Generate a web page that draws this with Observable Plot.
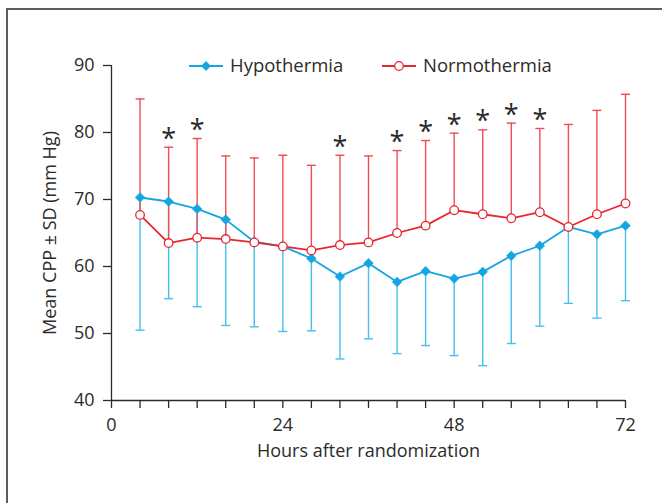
<!DOCTYPE html>
<html>
<head>
<meta charset="utf-8">
<script src="https://cdn.jsdelivr.net/npm/d3@7"></script>
<script src="https://cdn.jsdelivr.net/npm/@observablehq/plot@0.6"></script>
<style>
  html, body { margin: 0; padding: 0; background: #fff; overflow: hidden; }
  #wrap { position: relative; width: 662px; height: 503px; overflow: hidden; }
  #frame { position: absolute; left: 6px; top: 8px; width: 720px; height: 600px;
           border-top: 2px solid #5c5c5c; border-left: 2px solid #5c5c5c; }
  #chart { position: absolute; left: 0; top: 0; }
  #legend { position: absolute; left: 0; top: 0; pointer-events: none; }
</style>
</head>
<body>
<div id="wrap">
  <div id="frame"></div>
  <div id="chart"></div>
  <svg id="legend" width="662" height="90"></svg>
</div>
<script>
// ---- data ----
const hours      = [4, 8, 12, 16, 20, 24, 28, 32, 36, 40, 44, 48, 52, 56, 60, 64, 68, 72];
const hypoMean   = [70.3, 69.7, 68.6, 67.0, 63.7, 63.0, 61.2, 58.5, 60.5, 57.7, 59.3, 58.2, 59.2, 61.6, 63.1, 65.9, 64.8, 66.1];
const hypoLower  = [50.5, 55.2, 54.0, 51.2, 51.0, 50.3, 50.4, 46.2, 49.2, 47.0, 48.2, 46.7, 45.2, 48.5, 51.1, 54.5, 52.3, 54.9];
const normoMean  = [67.7, 63.5, 64.3, 64.1, 63.6, 63.0, 62.4, 63.2, 63.6, 65.0, 66.1, 68.4, 67.8, 67.2, 68.1, 65.9, 67.8, 69.4];
const normoUpper = [85.0, 77.8, 79.1, 76.5, 76.2, 76.6, 75.1, 76.6, 76.5, 77.3, 78.8, 79.9, 80.4, 81.4, 80.6, 81.2, 83.3, 85.7];
const sigHours   = [8, 12, 32, 40, 44, 48, 52, 56, 60];
const xTicks     = [0, 4, 8, 12, 16, 20, 24, 28, 32, 36, 40, 44, 48, 52, 56, 60, 64, 68, 72];
const xLabels    = [0, 24, 48, 72];
const yTicks     = [40, 50, 60, 70, 80, 90];
const seriesNames = ["Hypothermia", "Normothermia"];

const BLUE = "#15a6e1", BLUE_BAR = "#45bfee";
const RED = "#e8262f", RED_BAR = "#ee4d56";
const INK = "#2b2b2b";

const rows = hours.map((h, i) => ({
  h, hypo: hypoMean[i], hypoLo: hypoLower[i], normo: normoMean[i], normoUp: normoUpper[i]
}));
const sigRows = rows.filter(d => sigHours.includes(d.h));

const capSymbol = {
  draw(ctx, size) { const w = Math.sqrt(size / Math.PI); ctx.moveTo(-w, 0); ctx.lineTo(w, 0); }
};

const chart = Plot.plot({
  width: 662, height: 503,
  marginLeft: 111, marginRight: 37, marginTop: 65, marginBottom: 103,
  style: { fontFamily: "'Open Sans', sans-serif", fontSize: "18px", color: INK, background: "transparent", overflow: "visible" },
  x: { domain: [0, 72] },
  y: { domain: [40, 90] },
  marks: [
    Plot.axisY({ ticks: yTicks, tickSize: 8, tickPadding: 9, stroke: INK, strokeWidth: 1.3,
      label: "Mean CPP ± SD (mm Hg)", labelAnchor: "center", labelArrow: "none", labelOffset: 68 }),
    Plot.axisX({ ticks: xTicks, tickFormat: d => xLabels.includes(d) ? String(d) : "", tickSize: 8, tickPadding: 10,
      stroke: INK, strokeWidth: 1.3,
      label: "Hours after randomization", labelAnchor: "center", labelArrow: "none", labelOffset: 56 }),
    Plot.ruleX([0], { y1: 40, y2: 90, stroke: INK, strokeWidth: 1.3 }),
    Plot.ruleY([40], { x1: 0, x2: 72, stroke: INK, strokeWidth: 1.3 }),
    // error bars
    Plot.ruleX(rows, { x: "h", y1: "hypo", y2: "hypoLo", stroke: BLUE_BAR, strokeWidth: 1.4 }),
    Plot.dot(rows, { x: "h", y: "hypoLo", symbol: capSymbol, r: 4.5, stroke: BLUE_BAR, strokeWidth: 1.4 }),
    Plot.ruleX(rows, { x: "h", y1: "normo", y2: "normoUp", stroke: RED_BAR, strokeWidth: 1.4 }),
    Plot.dot(rows, { x: "h", y: "normoUp", symbol: capSymbol, r: 4.5, stroke: RED_BAR, strokeWidth: 1.4 }),
    // lines
    Plot.line(rows, { x: "h", y: "hypo", stroke: BLUE, strokeWidth: 1.8 }),
    Plot.line(rows, { x: "h", y: "normo", stroke: RED, strokeWidth: 1.8 }),
    Plot.dot(rows, { x: "h", y: "hypo", symbol: "diamond2", r: 4.4, fill: BLUE, stroke: BLUE, strokeWidth: 0.5 }),
    Plot.dot(rows, { x: "h", y: "normo", r: 4.3, fill: "white", stroke: RED, strokeWidth: 1.3 }),
    // significance asterisks
    Plot.text(sigRows, { x: "h", y: "normoUp", text: () => "*", fontSize: 27, dy: -8, fill: INK })
  ]
});
document.getElementById("chart").appendChild(chart);

// ---- legend ----
const lg = d3.select("#legend");
const items = [
  { name: seriesNames[0], color: BLUE, x0: 189, marker: "diamond" },
  { name: seriesNames[1], color: RED, x0: 382, marker: "circle" }
];
for (const it of items) {
  const g = lg.append("g");
  g.append("line").attr("x1", it.x0).attr("x2", it.x0 + 34).attr("y1", 66).attr("y2", 66)
    .attr("stroke", it.color).attr("stroke-width", 1.8);
  if (it.marker === "diamond") {
    g.append("path").attr("d", d3.symbol(d3.symbolDiamond2, Math.PI * 4.4 * 4.4)())
      .attr("transform", `translate(${it.x0 + 17},66)`).attr("fill", it.color);
  } else {
    g.append("circle").attr("cx", it.x0 + 17).attr("cy", 66).attr("r", 4.3)
      .attr("fill", "white").attr("stroke", it.color).attr("stroke-width", 1.3);
  }
  g.append("text").attr("x", it.x0 + 41).attr("y", 66).attr("dy", "0.35em")
    .attr("font-family", "'Open Sans', sans-serif").attr("font-size", 18.5).attr("fill", INK)
    .text(it.name);
}
</script>
</body>
</html>
